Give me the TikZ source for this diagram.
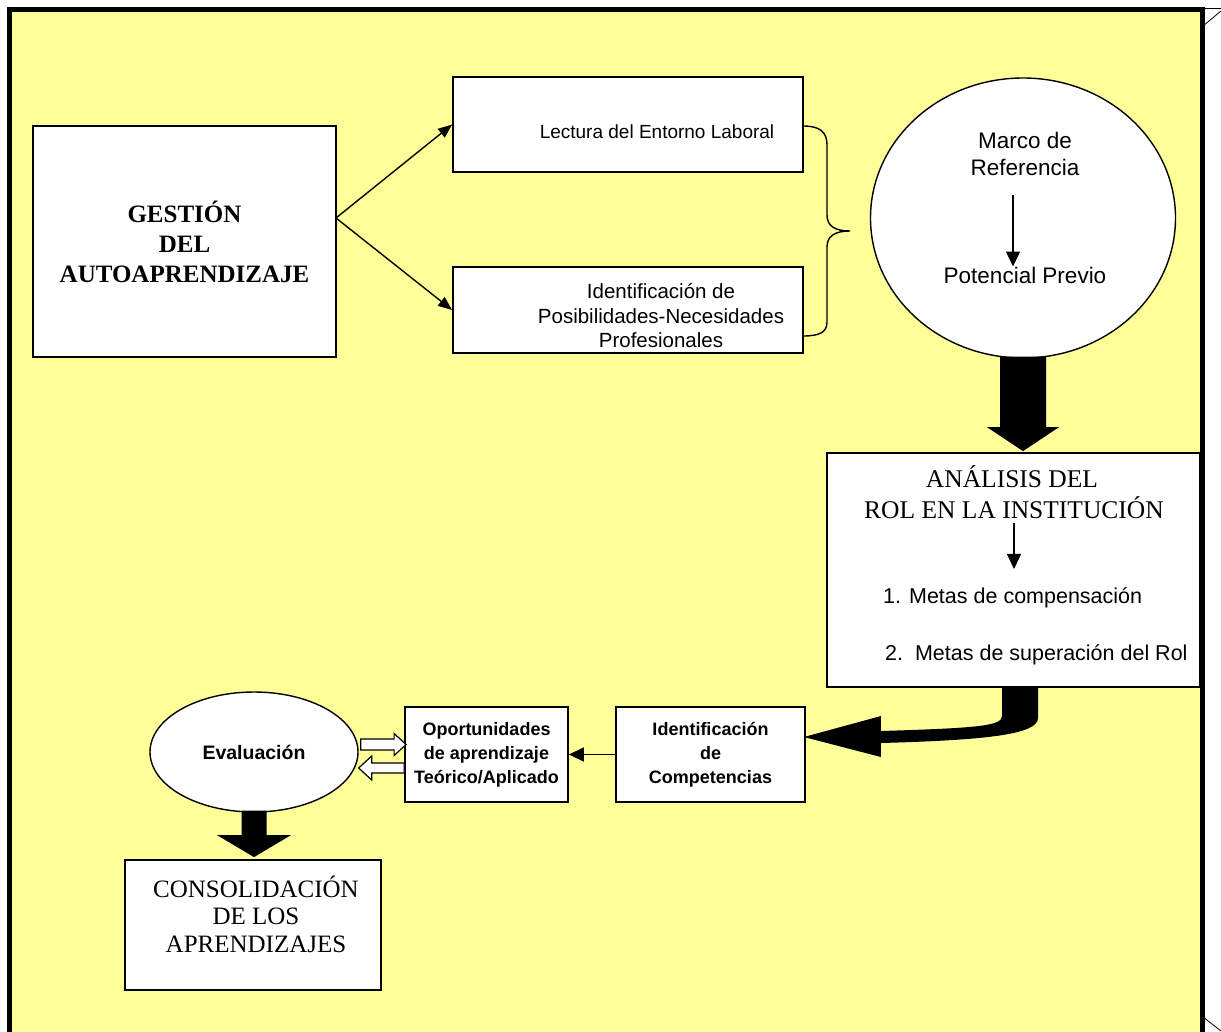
\documentclass[tikz,border=0pt]{standalone}
\usepackage{fontspec}
\setmainfont{Liberation Serif}
\setsansfont{Liberation Sans}
\usetikzlibrary{arrows.meta,calc,shapes.geometric}
\definecolor{paper}{HTML}{FFFF99}

\begin{document}
\begin{tikzpicture}[x=1pt,y=-1pt,
  box/.style={draw=black, line width=1.8pt, fill=white, inner sep=0pt, align=center},
  oval/.style={draw=black, line width=1.4pt, fill=white, ellipse, inner sep=0pt, align=center},
  label/.style={inner sep=0pt, anchor=base},
  blocktext/.style={inner sep=0pt, align=center},
  serifbig/.style={font=\fontsize{25.5}{30}\selectfont},
  sansmid/.style={font=\sffamily\fontsize{20.5}{24.5}\selectfont},
  sansbig/.style={font=\sffamily\fontsize{22.5}{27}\selectfont},
  sansmeta/.style={font=\sffamily\fontsize{21.5}{26}\selectfont},
  sansbold/.style={font=\sffamily\bfseries\fontsize{18}{24}\selectfont},
  link/.style={line width=1.4pt, -{Triangle[length=14pt,width=11pt]}},
  inlink/.style={line width=1.4pt, -{Triangle[length=15pt,width=14pt]}},
  hollow/.style={draw=black, line width=1.2pt, fill=white, line join=miter},
]
\useasboundingbox (0,0) rectangle (1221,1031);

% page frame
\begin{scope}
  \clip (0,0) rectangle (1221,1031);
  \draw[line width=5pt, fill=paper] (9.5,9.5) rectangle (1202.5,1045);
\end{scope}
% corner marks
\draw[line width=0.8pt] (1204,8) -- (1221,8);
\draw[line width=0.8pt] (1203,26) -- (1221,11);
\draw[line width=0.8pt] (1203,1017) -- (1221,1031);

% upper row
\node[box, minimum width=303pt, minimum height=231pt,
      font=\bfseries\fontsize{25}{30}\selectfont] (gest) at (184.5,241.5)
      {GESTIÓN\\DEL\\AUTOAPRENDIZAJE};
\node[box, minimum width=350pt, minimum height=95pt] (lect) at (628,124.5) {};
\node[blocktext, font=\sffamily\fontsize{19}{23}\selectfont] (lectT) at (657,132)
      {Lectura del Entorno Laboral};
\node[box, minimum width=350pt, minimum height=86pt] (posib) at (628,310) {};
\node[blocktext, sansmid] (posibT) at (661,316)
      {Identificación de\\Posibilidades-Necesidades\\Profesionales};

\coordinate (split) at (336,218);
\draw[link] (split) -- (lect.west);
\draw[link] (split) -- (posib.west);

% brace
\draw[line width=1.4pt]
  (803,126) .. controls (820,126) and (827,132) .. (827,145) -- (827,215)
  .. controls (827,226) and (835,231) .. (850,231)
  .. controls (835,231) and (827,236) .. (827,247) -- (827,322)
  .. controls (827,332) and (820,336) .. (803,336);

% frame of reference
\node[oval, minimum width=305pt, minimum height=280pt] (marco) at (1023,218) {};
\node[label, sansbig] (marcoA) at (1025,148) {Marco de};
\node[label, sansbig] (marcoB) at (1025,175) {Referencia};
\node[label, sansbig] (potencial) at (1025,283) {Potencial Previo};
\draw[inlink, shorten <=20pt] ([xshift=-12pt]marcoB.south) -- ([xshift=-12pt]potencial.north);

% role analysis
\node[box, minimum width=373pt, minimum height=234pt] (anal) at (1013.5,570) {};
\node[label, serifbig] (analA) at (1012,487) {ANÁLISIS DEL};
\node[label, serifbig] (analB) at (1014,518) {ROL EN LA INSTITUCIÓN};
\node[label, sansmeta, anchor=base west] (meta1) at (883,603) {1. Metas de compensación};
\node[label, sansmeta, anchor=base west] (meta2) at (885,660) {2.\ \ Metas de superación del Rol};
\draw[inlink, shorten <=5pt, shorten >=18pt] (analB.south) -- (analB.south |- meta1.north);

% big arrow from the frame of reference to the role analysis
\coordinate (mA) at (marco.south);
\coordinate (mB) at (marco.south |- anal.north);
\fill ($(mA)+(-23,-2)$) -- ($(mB)+(-23,-25)$) -- ($(mB)+(-36,-25)$) -- ($(mB)+(0,-1)$)
  -- ($(mB)+(36,-25)$) -- ($(mB)+(23,-25)$) -- ($(mA)+(23,-2)$) -- cycle;

% lower row
\node[oval, minimum width=208pt, minimum height=120pt,
      font=\sffamily\bfseries\fontsize{19.5}{23}\selectfont] (eval) at (254,752) {Evaluación};
\node[box, minimum width=163pt, minimum height=95pt, sansbold] (oport) at (486.5,754.5)
      {Oportunidades\\de aprendizaje\\Teórico/Aplicado};
\node[box, minimum width=189pt, minimum height=95pt, sansbold] (idcomp) at (710.5,754.5)
      {Identificación\\de\\Competencias};
\node[box, minimum width=256pt, minimum height=130pt] (consol) at (253,925) {};
\node[blocktext, font=\fontsize{25}{27.5}\selectfont] (consolT) at (256,914)
      {CONSOLIDACIÓN\\DE LOS\\APRENDIZAJES};

\draw[inlink] (idcomp.west) -- (oport.east);

% bent arrow from the role analysis to the competences
\coordinate (bA) at (anal.south);
\coordinate (bP) at ($(idcomp.east)+(-2,-17.5)$);
\fill ($(bA)+(-11.5,-1)$) -- ($(bA)+(-11.5,28)$)
  .. controls ($(bA)+(-11.5,38)$) and ($(bP)+(175,-9)$) .. ($(bP)+(77,-6)$)
  -- ($(bP)+(77,-21)$) -- (bP) -- ($(bP)+(77,20)$) -- ($(bP)+(77,6)$)
  .. controls ($(bP)+(187,3)$) and ($(bA)+(24.5,46)$) .. ($(bA)+(24.5,30)$)
  -- ($(bA)+(24.5,-1)$) -- cycle;

% hollow arrows between evaluation and learning opportunities
\coordinate (s1) at ($(eval.east)+(2,-7.5)$);
\coordinate (e1) at ($(oport.west)+(2,-10)$);
\draw[hollow] ($(s1)+(0,-5.5)$) -- ($(e1)+(-12,-5.5)$) -- ($(e1)+(-12,-11)$) -- (e1)
  -- ($(e1)+(-12,11)$) -- ($(e1)+(-12,5.5)$) -- ($(s1)+(0,5.5)$) -- cycle;
\coordinate (s2) at ($(oport.west)+(0,13.5)$);
\coordinate (e2) at ($(eval.east)+(0,16)$);
\draw[hollow] ($(s2)+(0,-5)$) -- ($(e2)+(13,-5)$) -- ($(e2)+(13,-12)$) -- (e2)
  -- ($(e2)+(13,12)$) -- ($(e2)+(13,5)$) -- ($(s2)+(0,5)$) -- cycle;

% big arrow from evaluation to consolidation
\coordinate (eA) at (eval.south);
\coordinate (eB) at (eval.south |- consol.north);
\fill ($(eA)+(-12.5,-2)$) -- ($(eB)+(-12.5,-24)$) -- ($(eB)+(-37,-24)$) -- ($(eB)+(0,-2)$)
  -- ($(eB)+(37,-24)$) -- ($(eB)+(12.5,-24)$) -- ($(eA)+(12.5,-2)$) -- cycle;
\end{tikzpicture}
\end{document}
